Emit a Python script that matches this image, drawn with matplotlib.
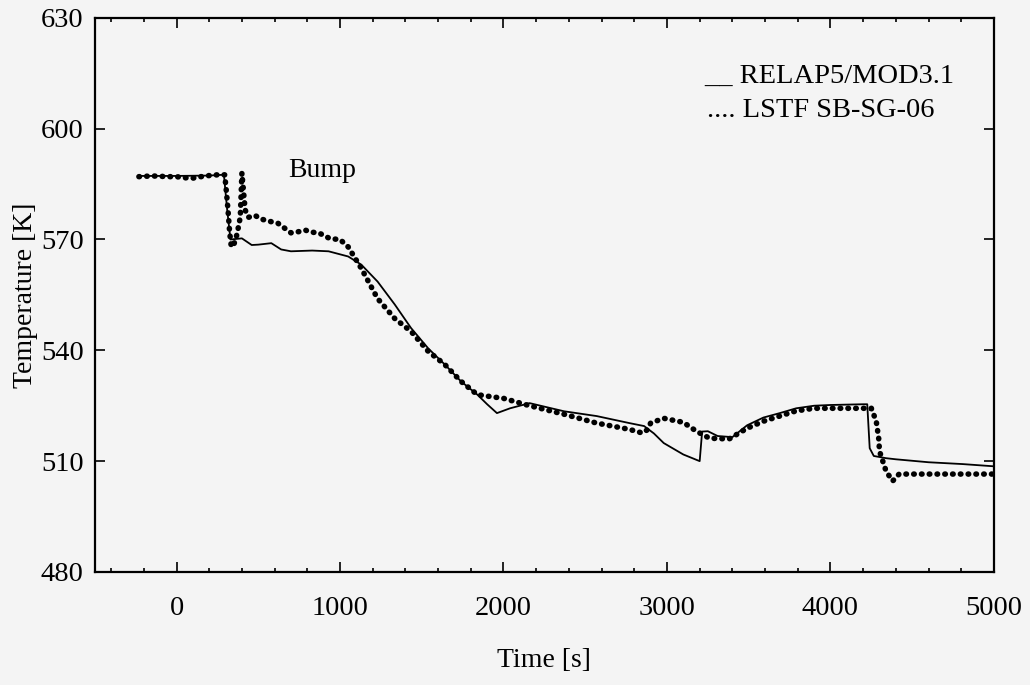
import numpy as np
import matplotlib
matplotlib.use("Agg")
import matplotlib.pyplot as plt
from matplotlib.ticker import MultipleLocator

plt.rcParams["font.family"] = ["Liberation Serif", "DejaVu Serif"]

# RELAP5/MOD3.1 calculation (solid)
relap_t = [-230, 0, 200, 280, 290, 310, 330, 400, 460, 500, 580, 640, 700, 830,
           930, 1050, 1130, 1230, 1335, 1435, 1540, 1640, 1740, 1840, 1900, 1960,
           2040, 2160, 2370, 2570, 2770, 2860, 2920, 2980, 3100, 3200, 3215, 3250,
           3310, 3400, 3490, 3590, 3690, 3790, 3900, 4000, 4100, 4200, 4225, 4240,
           4265, 4340, 4400, 4600, 4810, 5000]
relap_T = [587.2, 587.2, 587.3, 587.5, 587.5, 578.0, 570.0, 570.3, 568.5, 568.6,
           569.0, 567.3, 566.8, 567.0, 566.8, 565.4, 563.2, 558.6, 552.4, 546.0,
           540.5, 536.2, 531.6, 528.0, 525.4, 523.0, 524.3, 525.7, 523.5, 522.2,
           520.3, 519.5, 517.5, 514.9, 511.8, 510.0, 518.0, 518.1, 516.8, 516.5,
           519.7, 521.8, 523.0, 524.3, 525.0, 525.2, 525.3, 525.4, 525.4, 513.5,
           511.4, 510.8, 510.5, 509.7, 509.2, 508.6]

# LSTF SB-SG-06 experiment (dots)
lstf_t = [-230, -150, -50, 0, 50, 100, 150, 200, 250, 295, 305, 315, 325, 335,
          350, 370, 390, 400, 410, 420, 440, 480, 520, 580, 620, 700, 760, 790,
          820, 870, 940, 1000, 1050, 1130, 1230, 1335, 1435, 1540, 1640, 1740,
          1840, 1900, 2000, 2160, 2370, 2570, 2770, 2850, 2880, 2900, 2980, 3100,
          3180, 3260, 3380, 3490, 3590, 3690, 3790, 3900, 4000, 4100, 4200, 4250,
          4280, 4295, 4300, 4340, 4380, 4420, 4600, 4800, 5000]
lstf_T = [587.0, 587.2, 587.0, 587.0, 586.7, 586.6, 587.0, 587.3, 587.5, 587.5,
          583.0, 578.0, 572.0, 568.0, 568.5, 571.4, 576.0, 588.0, 583.0, 578.0,
          576.0, 576.5, 575.5, 574.8, 574.4, 571.8, 572.2, 572.5, 572.0, 571.8,
          570.2, 570.0, 568.0, 562.2, 554.0, 548.6, 545.1, 539.7, 536.2, 531.6,
          528.0, 527.6, 527.0, 525.0, 522.7, 520.3, 518.6, 517.6, 518.5, 520.3,
          521.6, 520.5, 518.1, 516.2, 516.0, 518.9, 520.8, 522.2, 523.6, 524.3,
          524.3, 524.3, 524.3, 524.3, 520.8, 516.2, 512.7, 507.3, 504.6, 506.5,
          506.5, 506.5, 506.5]

bg = "#f4f4f4"
fig = plt.figure(figsize=(10.3, 6.85), dpi=100, facecolor=bg)
ax = fig.add_axes([0.092, 0.165, 0.873, 0.809], facecolor=bg)

ax.plot(relap_t, relap_T, color="black", lw=1.3)
ax.plot(lstf_t, lstf_T, color="black", lw=4.0, linestyle=(0, (0.1, 1.3)),
        dash_capstyle="round")

ax.set_xlim(-500, 5000)
ax.set_ylim(480, 630)
ax.xaxis.set_major_locator(MultipleLocator(1000))
ax.xaxis.set_minor_locator(MultipleLocator(200))
ax.yaxis.set_major_locator(MultipleLocator(30))
ax.tick_params(which="both", direction="in", top=True, right=True, width=1.2)
ax.tick_params(which="major", length=7, labelsize=20.5)
ax.tick_params(axis="x", which="major", pad=17)
ax.tick_params(axis="y", which="major", pad=8)
ax.tick_params(which="minor", length=3)
for s in ax.spines.values():
    s.set_linewidth(1.6)

ax.set_xlabel("Time [s]", fontsize=20, labelpad=20)
ax.set_ylabel("Temperature [K]", fontsize=20, labelpad=2)

ax.text(683, 587, "Bump", fontsize=20)
ax.text(3225, 612.5, "__ RELAP5/MOD3.1", fontsize=20.5)
ax.text(3245, 603.2, ".... LSTF SB-SG-06", fontsize=20.5)

fig.savefig("out.png", dpi=100, facecolor=bg)
